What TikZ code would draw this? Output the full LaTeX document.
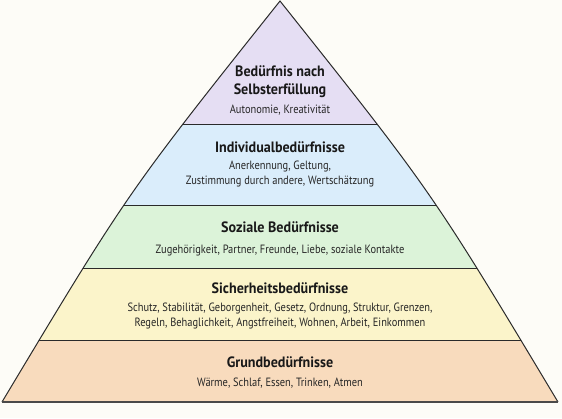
\documentclass[tikz,border=0pt]{standalone}
\usepackage{fontspec}
\setmainfont{PT Sans}
\newfontfamily\subfont[FakeStretch=0.87]{PT Sans}
\newfontfamily\ttlfont[FakeStretch=0.94]{PT Sans}
\definecolor{bg}{HTML}{FDFCF7}
\definecolor{c1}{HTML}{E5DEF3}
\definecolor{c2}{HTML}{DAEDFB}
\definecolor{c3}{HTML}{DCF3D9}
\definecolor{c4}{HTML}{FBF4CA}
\definecolor{c5}{HTML}{F8DBBD}
\definecolor{ln}{HTML}{2A2A2A}
\begin{document}
\begin{tikzpicture}[x=1pt,y=-1pt,
  ttl/.style={font=\ttlfont\fontsize{15}{16}\selectfont\bfseries, anchor=base, inner sep=0pt, text=black!90},
  sub/.style={font=\subfont\fontsize{12}{14}\selectfont, anchor=base, inner sep=0pt, text=black!85},
  sep/.style={draw=ln, line width=0.9pt}]
\fill[bg] (0,0) rectangle (562,418);
\useasboundingbox (0,0) rectangle (562,418);
\coordinate (apex) at (280,1);
\coordinate (bl) at (2,402);
\coordinate (br) at (558,402);
\coordinate (cl) at (128,192);
\coordinate (cr) at (432,192);
\begin{scope}
\clip (apex) .. controls (cr) .. (br) -- (bl) .. controls (cl) .. (apex) -- cycle;
\fill[c1] (0,0) rectangle (562,124);
\fill[c2] (0,124) rectangle (562,205);
\fill[c3] (0,205) rectangle (562,268);
\fill[c4] (0,268) rectangle (562,340);
\fill[c5] (0,340) rectangle (562,402);
\draw[sep] (0,124) -- (562,124);
\draw[sep] (0,205) -- (562,205);
\draw[sep] (0,268) -- (562,268);
\draw[sep] (0,340) -- (562,340);
\end{scope}
\draw[draw=ln, line width=1pt, line join=miter] (bl) .. controls (cl) .. (apex) .. controls (cr) .. (br);
\draw[draw=ln!85, line width=1.6pt] (bl) -- (br);
% level 1
\node[ttl] (t1a) at (280,76) {Bedürfnis nach};
\node[ttl] (t1b) at (280,94) {Selbsterfüllung};
\node[sub] (s1) at (280,113) {Autonomie, Kreativität};
% level 2
\node[ttl] (t2) at (280,152) {Individualbedürfnisse};
\node[sub] (s2a) at (280,169) {Anerkennung, Geltung,};
\node[sub] (s2b) at (280,184) {Zustimmung durch andere, Wertschätzung};
% level 3
\node[ttl] (t3) at (280,232) {Soziale Bedürfnisse};
\node[sub] (s3) at (280,253) {Zugehörigkeit, Partner, Freunde, Liebe, soziale Kontakte};
% level 4
\node[ttl] (t4) at (280,293) {Sicherheitsbedürfnisse};
\node[sub] (s4a) at (280,311) {Schutz, Stabilität, Geborgenheit, Gesetz, Ordnung, Struktur, Grenzen,};
\node[sub] (s4b) at (280,326) {Regeln, Behaglichkeit, Angstfreiheit, Wohnen, Arbeit, Einkommen};
% level 5
\node[ttl] (t5) at (280,367) {Grundbedürfnisse};
\node[sub] (s5) at (280,386) {Wärme, Schlaf, Essen, Trinken, Atmen};
\end{tikzpicture}
\end{document}
